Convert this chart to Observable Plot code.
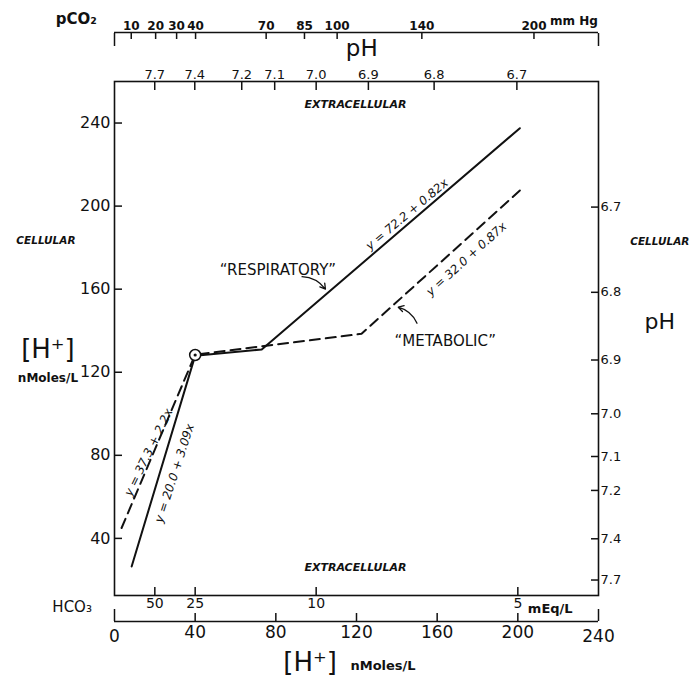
<!DOCTYPE html>
<html><head><meta charset="utf-8">
<script src="https://cdn.jsdelivr.net/npm/d3@7"></script>
<script src="https://cdn.jsdelivr.net/npm/@observablehq/plot@0.6"></script>
<style>body{margin:0;background:#fff}#chart{width:699px;height:676px}</style>
</head><body><div id="chart"></div>
<script>
// "Respiratory" (solid) and "Metabolic" (dashed) relations: extracellular [H+] (x) vs cellular [H+] (y), nMoles/L
const respX = [8.5, 40, 73, 201];
const respY = [26.5, 128, 131, 237.5];
const metabX = [3.5, 40, 122.5, 201];
const metabY = [45, 128.5, 138.5, 207.5];
const pivotX = [40];
const pivotY = [128.3];

// axis tick labels
const hTicks = [0, 40, 80, 120, 160, 200, 240];
const yTicks = [40, 80, 120, 160, 200, 240];
const pHLabels = ["7.7", "7.4", "7.2", "7.1", "7.0", "6.9", "6.8", "6.7"];
const hco3Labels = ["50", "25", "10", "5"];
const pco2Labels = ["10", "20", "30", "40", "70", "85", "100", "140", "200"];
const pco2Pos = [8.3, 20.4, 30.8, 40.2, 75.2, 94.2, 110.4, 152.4, 208];

// equations
const eqResp = "y = 72.2 + 0.82x";
const eqMetab = "y = 32.0 + 0.87x";
const eqMetabLow = "y = 37.3 + 2.2x";
const eqRespLow = "y = 20.0 + 3.09x";

const pHPos = pHLabels.map(p => Math.pow(10, 9 - +p));     // [H+] = 10^(9-pH)
const hco3Pos = hco3Labels.map(h => 1000 / +h);           // position on the [H+] scale
const pHMap = new Map(pHPos.map((v, i) => [v, pHLabels[i]]));
const hcoMap = new Map(hco3Pos.map((v, i) => [v, hco3Labels[i]]));
const pcoMap = new Map(pco2Pos.map((v, i) => [v, pco2Labels[i]]));

const resp = respX.map((x, i) => ({x, y: respY[i]}));
const metab = metabX.map((x, i) => ({x, y: metabY[i]}));
const F = "DejaVu Sans, Liberation Sans, sans-serif";

const chart = Plot.plot({
  width: 699, height: 676,
  marginLeft: 114, marginRight: 101, marginTop: 81, marginBottom: 81,
  style: {fontFamily: F, color: "#111", background: "#fff", overflow: "visible"},
  x: {domain: [0, 240]},
  y: {domain: [12.5, 260]},
  marks: [
    Plot.frame({stroke: "#111", strokeWidth: 1.6}),
    // left [H+] axis, ticks inward
    Plot.axisY({anchor: "left", ticks: yTicks, tickSize: 8, dx: 8, tickPadding: 4, fontSize: 16, label: null, strokeWidth: 1.5}),
    // right pH axis (cellular), ticks inward
    Plot.axisY({anchor: "right", ticks: pHPos, tickSize: 8, dx: -8, tickPadding: 2, fontSize: 13, label: null, tickFormat: d => pHMap.get(d), strokeWidth: 1.5}),
    // top pH axis (extracellular), ticks inward
    Plot.axisX({anchor: "top", ticks: pHPos, tickSize: 8, dy: 8, tickPadding: 3, fontSize: 13, label: null, tickFormat: d => pHMap.get(d), strokeWidth: 1.5}),
    // HCO3 axis on frame bottom, ticks inward
    Plot.axisX({anchor: "bottom", ticks: hco3Pos, tickSize: 8, dy: -8, tickPadding: 3, fontSize: 14, label: null, tickFormat: d => hcoMap.get(d), strokeWidth: 1.5}),
    // pCO2 axis above
    Plot.ruleY([260], {dy: -49, stroke: "#111", strokeWidth: 1.6}),
    Plot.axisX({anchor: "top", ticks: pco2Pos, tickSize: 6, dy: -43, tickPadding: 3, fontSize: 12, fontWeight: "bold", label: null, tickFormat: d => pcoMap.get(d), strokeWidth: 1.5}),
    Plot.axisX({anchor: "top", ticks: [0, 240], tickSize: 13, dy: -36, tickFormat: () => "", label: null, strokeWidth: 1.5}),
    // lower [H+] axis
    Plot.ruleY([12.5], {dy: 26, stroke: "#111", strokeWidth: 1.6}),
    Plot.axisX({anchor: "bottom", ticks: hTicks.slice(1, -1), tickSize: 8, dy: 18, tickPadding: 4, fontSize: 17, label: null, strokeWidth: 1.5}),
    Plot.axisX({anchor: "bottom", ticks: [0, 240], tickSize: 12, dy: 14, tickPadding: 8, fontSize: 17, label: null, strokeWidth: 1.5}),

    // lines
    Plot.line(resp, {x: "x", y: "y", stroke: "#111", strokeWidth: 2}),
    Plot.line(metab, {x: "x", y: "y", stroke: "#111", strokeWidth: 2, strokeDasharray: "10,6"}),
    Plot.dot({length: 1}, {x: pivotX, y: pivotY, r: 5.5, stroke: "#111", strokeWidth: 1.5, fill: "#fff"}),
    Plot.dot({length: 1}, {x: pivotX, y: pivotY, r: 1.6, fill: "#111"}),

    // equations along the lines
    Plot.text([eqResp], {x: 145, y: 196, text: d => d, rotate: -40, fontSize: 12, fontStyle: "italic"}),
    Plot.text([eqMetab], {x: 174.5, y: 174.5, text: d => d, rotate: -42, fontSize: 12, fontStyle: "italic"}),
    Plot.text([eqMetabLow], {x: 16.9, y: 81.4, text: d => d, rotate: -64, fontSize: 12, fontStyle: "italic"}),
    Plot.text([eqRespLow], {x: 29.8, y: 71.3, text: d => d, rotate: -72, fontSize: 12, fontStyle: "italic"}),

    // curve labels and arrows
    Plot.text(["\u201CRESPIRATORY\u201D"], {x: 81, y: 169, text: d => d, fontSize: 15, letterSpacing: 1}),
    Plot.arrow({length: 1}, {x1: [93], y1: [166], x2: [104.6], y2: [160], bend: 25, stroke: "#111", strokeWidth: 1.3, headLength: 7}),
    Plot.text(["\u201CMETABOLIC\u201D"], {x: 164, y: 135, text: d => d, fontSize: 15, letterSpacing: 0.5}),
    Plot.arrow({length: 1}, {x1: [150], y1: [143.6], x2: [140.7], y2: [151.3], bend: -25, stroke: "#111", strokeWidth: 1.3, headLength: 7}),

    // region labels
    Plot.text(["EXTRACELLULAR"], {x: 119.5, y: 249, text: d => d, fontSize: 11, fontStyle: "italic", fontWeight: "bold", letterSpacing: 1}),
    Plot.text(["EXTRACELLULAR"], {x: 119.5, y: 26, text: d => d, fontSize: 11, fontStyle: "italic", fontWeight: "bold", letterSpacing: 1}),
    Plot.text(["CELLULAR"], {x: -34, y: 183.6, text: d => d, fontSize: 10.5, fontStyle: "italic", fontWeight: "bold", letterSpacing: 1}),
    Plot.text(["CELLULAR"], {x: 270.4, y: 182.7, text: d => d, fontSize: 10.5, fontStyle: "italic", fontWeight: "bold", letterSpacing: 1}),

    // axis titles
    Plot.text(["[H\u207A]"], {x: -33, y: 131, text: d => d, fontSize: 26}),
    Plot.text(["nMoles/L"], {x: -33, y: 117, text: d => d, fontSize: 12, fontWeight: "bold"}),
    Plot.text(["pH"], {x: 270.4, y: 144, text: d => d, fontSize: 22}),
    Plot.text(["pH"], {x: 122.6, y: 260, dy: -33, text: d => d, fontSize: 23}),
    Plot.text(["pCO\u2082"], {x: -19, y: 260, dy: -62, text: d => d, fontSize: 15, fontWeight: "bold"}),
    Plot.text(["mm Hg"], {x: 208, y: 260, dy: -60, dx: 16, textAnchor: "start", text: d => d, fontSize: 12, fontWeight: "bold"}),
    Plot.text(["HCO\u2083"], {x: -21, y: 12.5, dy: 12, text: d => d, fontSize: 15}),
    Plot.text(["mEq/L"], {x: 200, y: 12.5, dy: 13, dx: 10, textAnchor: "start", text: d => d, fontSize: 13, fontWeight: "bold"}),
    Plot.text(["[H\u207A]"], {x: 97, y: 12.5, dy: 67, text: d => d, fontSize: 26}),
    Plot.text(["nMoles/L"], {x: 117, y: 12.5, dy: 70, textAnchor: "start", text: d => d, fontSize: 13, fontWeight: "bold"})
  ]
});
document.getElementById("chart").appendChild(chart);
</script>
</body></html>
